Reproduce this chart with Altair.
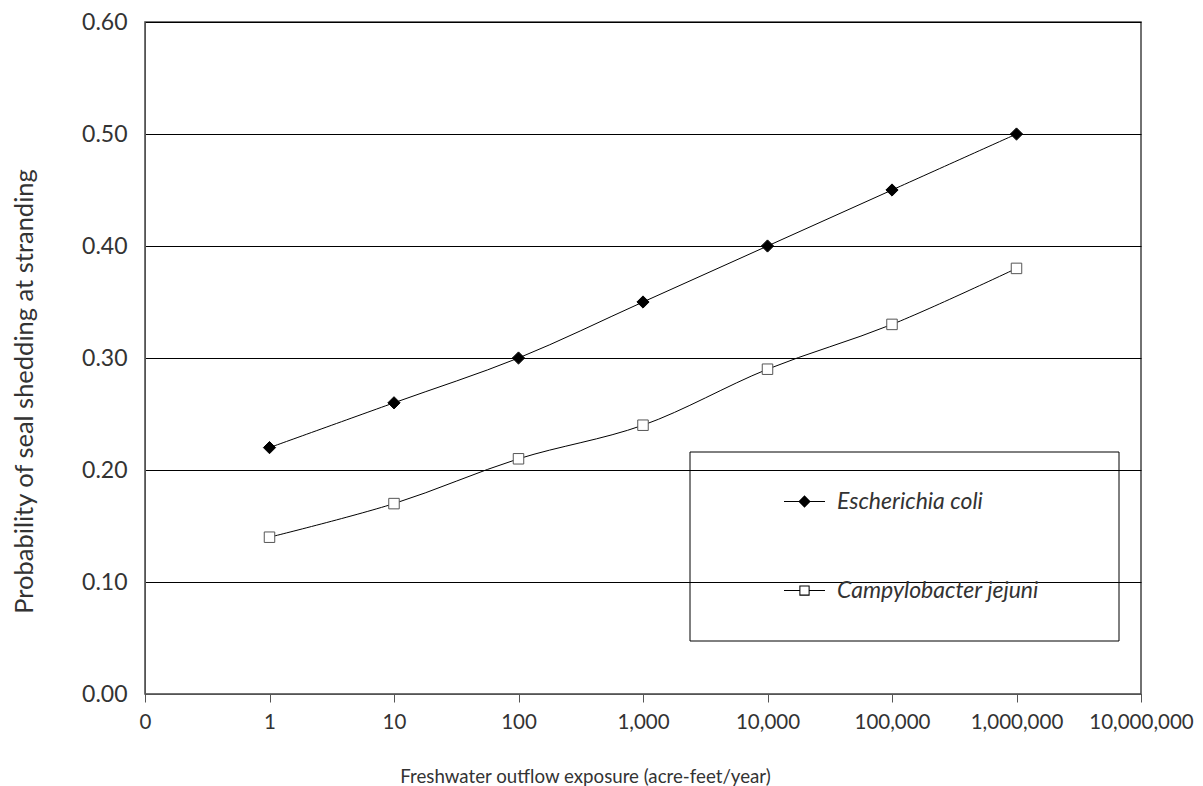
import altair as alt
import pandas as pd

exposure = [1, 10, 100, 1000, 10000, 100000, 1000000]
ecoli = [0.22, 0.26, 0.30, 0.35, 0.40, 0.45, 0.50]
cjejuni = [0.14, 0.17, 0.21, 0.24, 0.29, 0.33, 0.38]
series_names = ["Escherichia coli", "Campylobacter jejuni"]
x_tick_labels = ["0", "1", "10", "100", "1,000", "10,000", "100,000", "1,000,000", "10,000,000"]
y_ticks = [0.0, 0.1, 0.2, 0.3, 0.4, 0.5, 0.6]

rows = []
for name, vals in zip(series_names, [ecoli, cjejuni]):
    for e, v in zip(exposure, vals):
        rows.append({"series": name, "exposure": e, "prob": v})
df = pd.DataFrame(rows)

FONT = "Lato"
TXT = "#333333"

label_array = "[" + ",".join("'" + s + "'" for s in x_tick_labels) + "]"

x_enc = alt.X(
    "pos:Q",
    scale=alt.Scale(domain=[0, len(x_tick_labels) - 1], nice=False, zero=False),
    axis=alt.Axis(
        values=list(range(len(x_tick_labels))),
        labelExpr=label_array + "[datum.value]",
        grid=False,
        tickSize=8,
        tickColor="#555555",
        domainColor="#555555",
        labelPadding=10,
        labelFontSize=20.5,
        labelColor=TXT,
        labelFont=FONT,
        titleFont=FONT,
        titleFontSize=18.7,
        titleFontWeight="normal",
        titleColor=TXT,
        titlePadding=35,
        titleX=440,
        labelFlush=False,
        labelOverlap=False,
    ),
    title="Freshwater outflow exposure (acre-feet/year)",
)
y_enc = alt.Y(
    "prob:Q",
    scale=alt.Scale(domain=[0, 0.6], nice=False),
    axis=alt.Axis(
        values=y_ticks,
        format=".2f",
        grid=True,
        gridColor="#000000",
        gridWidth=1,
        gridOpacity=1,
        ticks=False,
        domainColor="#555555",
        labelPadding=18,
        labelFontSize=23,
        labelColor=TXT,
        labelFont=FONT,
        titleFont=FONT,
        titleFontSize=25.5,
        titleFontWeight="normal",
        titleColor=TXT,
        titlePadding=44,
        titleY=369,
    ),
    title="Probability of seal shedding at stranding",
)

base = alt.Chart(df).transform_calculate(pos="log(datum.exposure) / LN10 + 1")

lines = base.mark_line(interpolate="catmull-rom", color="black", strokeWidth=1).encode(
    x=x_enc, y=y_enc, detail="series:N"
)

points = base.mark_point(strokeWidth=1, opacity=1).encode(
    x=x_enc,
    y=y_enc,
    shape=alt.Shape("series:N", scale=alt.Scale(domain=series_names, range=["diamond", "square"]), legend=None),
    fill=alt.Fill("series:N", scale=alt.Scale(domain=series_names, range=["#000000", "#ffffff"]), legend=None),
    stroke=alt.Stroke("series:N", scale=alt.Scale(domain=series_names, range=["#000000", "#555555"]), legend=None),
    size=alt.Size("series:N", scale=alt.Scale(domain=series_names, range=[150, 110]), legend=None),
)

t = 0.0244
line_rect = f"M-1,-{t} L1,-{t} L1,{t} L-1,{t} Z"
diamond_path = line_rect + " M0,-0.3 L0.3,0 L0,0.3 L-0.3,0 Z"
o, i = 0.25, 0.2
square_path = (
    f"M-1,-{t} L-{o},-{t} L-{o},{t} L-1,{t} Z "
    f"M{o},-{t} L1,-{t} L1,{t} L{o},{t} Z "
    f"M-{o},-{o} L{o},-{o} L{o},{o} L-{o},{o} Z "
    f"M-{i},-{i} L-{i},{i} L{i},{i} L{i},-{i} Z"
)

legend_layer = base.transform_filter("false").mark_point(filled=True, color="black", strokeWidth=0).encode(
    x=x_enc,
    y=y_enc,
    shape=alt.Shape(
        "series:N",
        scale=alt.Scale(domain=series_names, range=[diamond_path, square_path]),
        legend=alt.Legend(
            title=None,
            orient="none",
            legendX=639,
            legendY=459,
            padding=0,
            symbolSize=1681,
            symbolStrokeWidth=0,
            symbolFillColor="#000000",
            symbolOpacity=1,
            labelFont=FONT,
            labelFontSize=23,
            labelFontStyle="italic",
            labelColor=TXT,
            labelOffset=12,
            labelLimit=500,
            rowPadding=56,
        ),
    ),
)

legend_box = alt.Chart(pd.DataFrame({"box": [0]})).mark_rect(
    filled=False, color="#000000", strokeWidth=1
).encode(x=alt.value(545), x2=alt.value(974), y=alt.value(430), y2=alt.value(619))

chart = (
    alt.layer(lines, points, legend_layer, legend_box)
    .resolve_scale(shape="independent")
    .properties(width=996, height=672, padding={"left": 4, "top": 3, "right": 0, "bottom": 0})
    .configure_view(stroke="#444444", strokeWidth=1.5)
)

chart.save("out.html", embed_options={"renderer": "svg", "actions": False})
